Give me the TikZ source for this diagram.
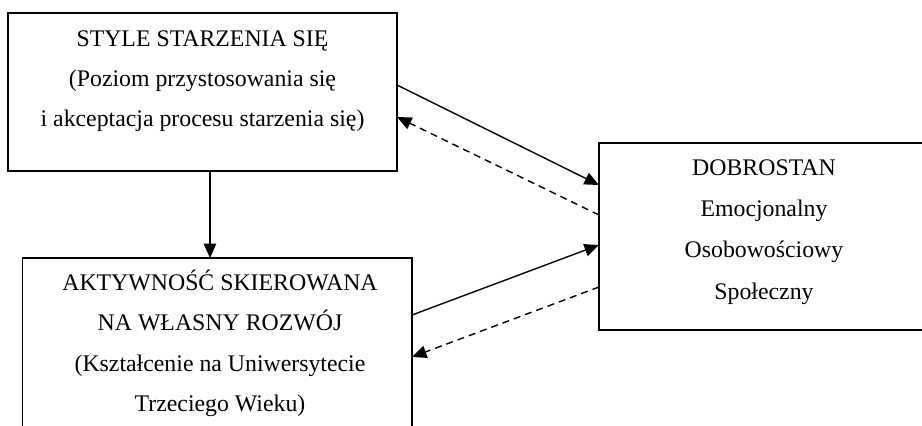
\documentclass[tikz,border=0pt]{standalone}
\usepackage{fontspec}
\setmainfont{Liberation Serif}
\usetikzlibrary{arrows.meta}
\begin{document}
\begin{tikzpicture}[x=1pt,y=-1pt,
  boxnode/.style={draw=black, line width=1.5pt, inner sep=0pt, outer sep=0pt, rectangle},
  txt/.style={anchor=base, inner sep=0pt, font=\fontsize{23.8}{40}\selectfont},
  solidarrow/.style={draw=black, line width=1.4pt, -{Triangle[length=14.5pt,width=12.5pt]}},
  dasharrow/.style={draw=black, line width=1.4pt, dash pattern=on 7pt off 5pt, -{Triangle[length=14.5pt,width=12.5pt]}}
]
\clip (0,0) rectangle (922,426);
\fill[white] (0,0) rectangle (922,426);
% boxes
\node[boxnode, minimum width=389pt, minimum height=158pt] (b1) at (202.5,92) {};
\node[boxnode, minimum width=389.3pt, minimum height=182pt] (b2) at (217.35,349) {};
\node[boxnode, minimum width=330pt, minimum height=187pt] (b3) at (764,236.5) {};
% texts box 1
\node[txt] (t11) at (202.5,46) {STYLE STARZENIA SIĘ};
\node[txt] (t12) at (202.5,86) {(Poziom przystosowania się};
\node[txt] (t13) at (202.5,126) {i akceptacja procesu starzenia się)};
% texts box 2
\node[txt] (t21) at (220,290) {AKTYWNOŚĆ SKIEROWANA};
\node[txt] (t22) at (220,330.5) {NA WŁASNY ROZWÓJ};
\node[txt] (t23) at (220,371) {(Kształcenie na Uniwersytecie};
\node[txt] (t24) at (220,411) {Trzeciego Wieku)};
% texts box 3
\node[txt] (t31) at (764,175) {DOBROSTAN};
\node[txt] (t32) at (764,216.7) {Emocjonalny};
\node[txt] (t33) at (764,257.7) {Osobowościowy};
\node[txt] (t34) at (764,299.3) {Społeczny};
% connectors
\draw[solidarrow] ([xshift=7.5pt]b1.south) -- ([xshift=7.5pt]b1.south |- b2.north);
\draw[solidarrow] ([yshift=7pt]b1.east) -- ([yshift=51.5pt]b3.west);
\draw[dasharrow] ([yshift=21.5pt]b3.west) -- ([yshift=-25pt]b1.east);
\draw[solidarrow] ([yshift=34pt]b2.east) -- ([yshift=-8.5pt]b3.west);
\draw[dasharrow] ([yshift=-50.5pt]b3.west) -- ([yshift=-8pt]b2.east);
\end{tikzpicture}
\end{document}
